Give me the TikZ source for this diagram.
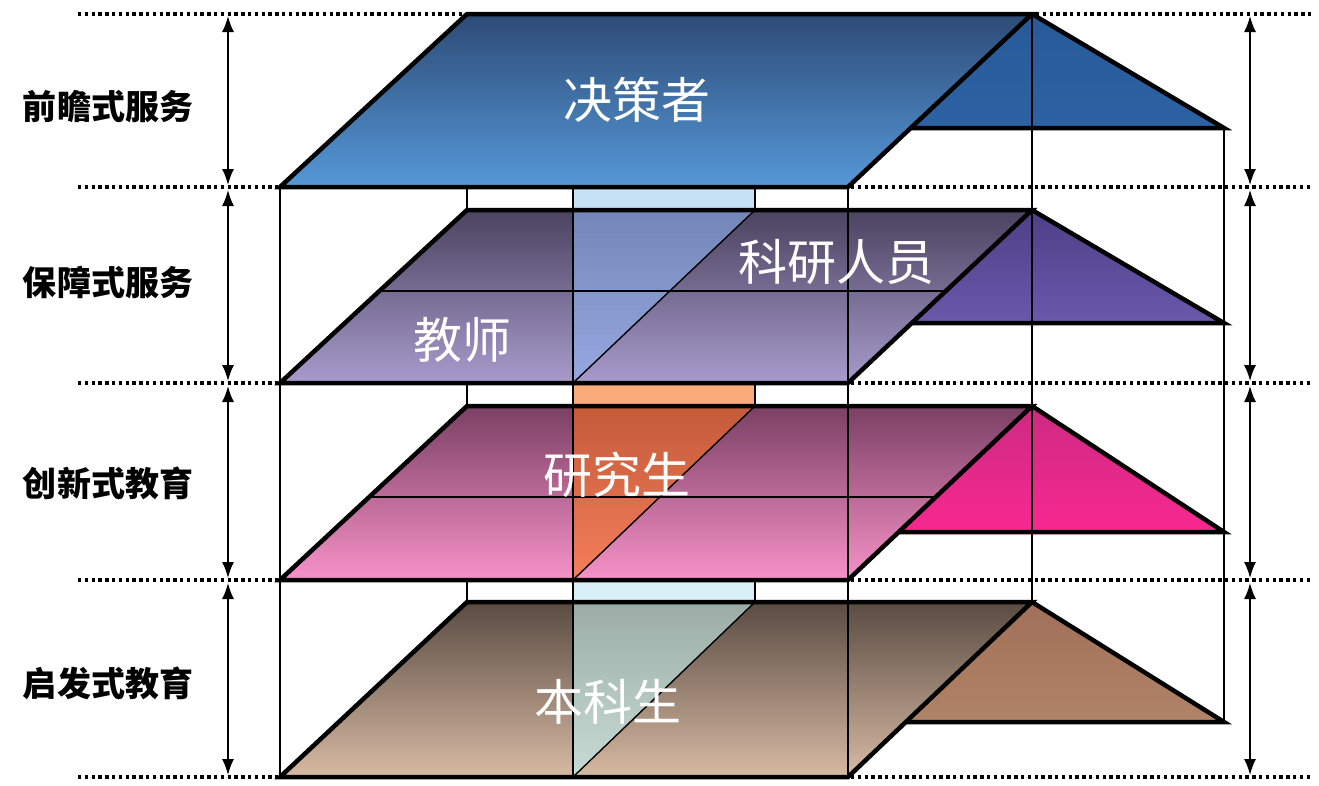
\documentclass[tikz,border=0pt]{standalone}
\usepackage{fontspec}
\newfontfamily\cjk{Noto Sans CJK SC}
\usetikzlibrary{arrows.meta}
\definecolor{aTop}{HTML}{2D4B76}\definecolor{aBot}{HTML}{5598D8}\definecolor{aTriT}{HTML}{285A98}\definecolor{aTriB}{HTML}{2C62A4}
\definecolor{bTop}{HTML}{4B4360}\definecolor{bBot}{HTML}{A89BCC}\definecolor{bTriT}{HTML}{4E3F88}\definecolor{bTriB}{HTML}{6A58AA}
\definecolor{cTop}{HTML}{7A4064}\definecolor{cBot}{HTML}{F792C8}\definecolor{cTriT}{HTML}{CC2A82}\definecolor{cTriB}{HTML}{F82890}
\definecolor{dTop}{HTML}{5A4B42}\definecolor{dBot}{HTML}{D7BAA3}\definecolor{dTriT}{HTML}{A07058}\definecolor{dTriB}{HTML}{B08468}
\definecolor{bColR}{HTML}{C6E0F6}\definecolor{bColT}{HTML}{7486B8}\definecolor{bColB}{HTML}{96A8E0}
\definecolor{cColR}{HTML}{F8AA78}\definecolor{cColT}{HTML}{C45A38}\definecolor{cColB}{HTML}{F47E5C}
\definecolor{dColR}{HTML}{D9F1F6}\definecolor{dColT}{HTML}{9AACA5}\definecolor{dColB}{HTML}{C8DCD6}
% #1 top, #2 bottom, #3 triangle base y, #4 triangle base left x, #5 prefix
\newcommand\drawplane[5]{%
  \shade[top color=#5Top,bottom color=#5Bot] (467,#1) -- (1032,#1) -- (848,#2) -- (280,#2) -- cycle;
}
\newcommand\drawtri[5]{%
  \shade[top color=#5TriT,bottom color=#5TriB] (1032,#1) -- (1224,#3) -- (#4,#3) -- cycle;
  \draw[planeedge] (1032,#1) -- (1224,#3) -- (#4,#3);
  \draw[planeedge] (467,#1) -- (1032,#1) -- (848,#2) -- (280,#2) -- cycle;
}
\newcommand\drawcol[3]{% #1 top, #2 bottom, #3 prefix
  \fill[#3ColR] (573,#1-23) rectangle (755,#1);
  \shade[top color=#3ColT,bottom color=#3ColB] (573,#1) -- (755,#1) -- (573,#2) -- cycle;
  \draw[thinline] (755,#1) -- (573,#2);
}
\begin{document}
\begin{tikzpicture}[x=1pt,y=-1pt,
  planeedge/.style={line width=4.5pt, line join=miter, black},
  thinline/.style={line width=1.4pt, black},
  dotline/.style={line width=3.6pt, dash pattern=on 3.4pt off 3.4pt, black},
  dimarrow/.style={line width=1.6pt, black, {Latex[length=16pt,width=12pt]}-{Latex[length=16pt,width=12pt]}},
  lbl/.style={font=\cjk\bfseries\fontsize{34}{34}\selectfont, text=black, inner sep=0pt},
  role/.style={font=\cjk\fontsize{49}{49}\selectfont, text=white, inner sep=0pt}]
\useasboundingbox (0,0) rectangle (1319,785);
\fill[white] (0,0) rectangle (1319,785);
% planes
\drawplane{602}{777}{722}{905.8}{d}
\drawcol{602}{777}{d}
\drawtri{602}{777}{722}{905.8}{d}
\drawplane{406}{580}{532}{898.8}{c}
\drawcol{406}{580}{c}
\draw[thinline] (369,497) -- (936,497);
\drawtri{406}{580}{532}{898.8}{c}
\drawplane{210}{383}{323}{911.8}{b}
\drawcol{210}{383}{b}
\draw[thinline] (379.5,291) -- (945.9,291);
\drawtri{210}{383}{323}{911.8}{b}
\drawplane{14}{187}{128}{910.7}{a}
\drawtri{14}{187}{128}{910.7}{a}
% vertical thin lines
\draw[thinline] (280,187) -- (280,777);
\draw[thinline] (573,187) -- (573,777);
\draw[thinline] (848,187) -- (848,777);
\draw[thinline] (1032,14) -- (1032,602);
\draw[thinline] (1224,128) -- (1224,722);
\foreach \t in {187,383,580}{
  \draw[thinline] (467,\t) -- (467,\t+23);
  \draw[thinline] (755,\t) -- (755,\t+23);
}
% dotted lines
\draw[dotline] (78,14) -- (465,14);
\draw[dotline] (1036,14) -- (1312,14);
\foreach \y in {187,383,580,777}{
  \draw[dotline] (78,\y) -- (278,\y);
  \draw[dotline] (851,\y) -- (1312,\y);
}
% dimension arrows
\foreach \a/\b in {16/185,190/381,386/578,583/775}{
  \coordinate (la\a) at (228,\a); \coordinate (lb\a) at (228,\b);
  \draw[dimarrow] (la\a) -- (lb\a);
  \coordinate (ra\a) at (1250,\a); \coordinate (rb\a) at (1250,\b);
  \draw[dimarrow] (ra\a) -- (rb\a);
}
% labels
\node[lbl] (l1) at (108,107) {前瞻式服务};
\node[lbl] (l2) at (108,282) {保障式服务};
\node[lbl] (l3) at (108,483) {创新式教育};
\node[lbl] (l4) at (108,683) {启发式教育};
\node[role] (r1) at (637,100) {决策者};
\node[role] (r2) at (836,262) {科研人员};
\node[role] (r3) at (462,340) {教师};
\node[role] (r4) at (617,475) {研究生};
\node[role] (r5) at (608,702) {本科生};
\end{tikzpicture}
\end{document}
